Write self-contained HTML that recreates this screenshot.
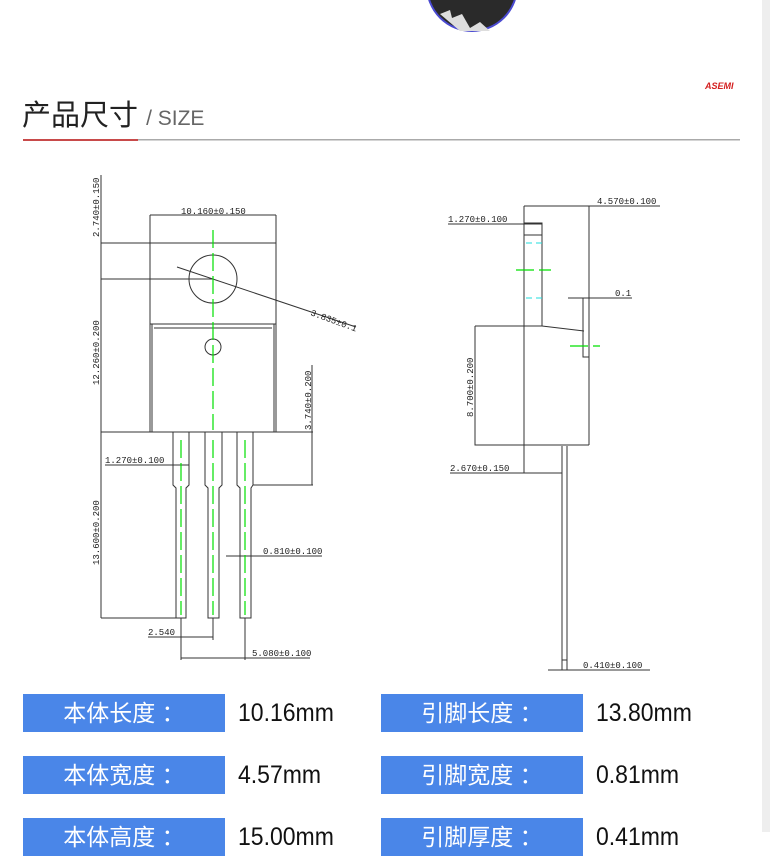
<!DOCTYPE html>
<html><head><meta charset="utf-8"><style>
body{margin:0;width:770px;height:832px;overflow:hidden;background:#fff;position:relative;font-family:"Liberation Sans","Noto Sans CJK SC",sans-serif}
.sb{position:absolute;left:762px;top:0;width:8px;height:832px;background:#eeeeee}
.t{position:absolute;left:22px;top:92px;font-size:29px;color:#222;font-weight:normal;white-space:nowrap}
.t span{font-size:21px;color:#666;font-family:"Liberation Sans",sans-serif;font-weight:normal}
.box{position:absolute;width:202px;height:38px;background:#4a86e8;color:#fff;font-size:23px;line-height:38px;text-align:center;font-family:"Liberation Sans","Noto Sans CJK SC",sans-serif}
.v{position:absolute;font-size:25px;line-height:38px;color:#111;font-family:"Liberation Sans","Noto Sans CJK SC",sans-serif;transform:scaleX(0.92);transform-origin:left}
svg text{font-family:"Liberation Mono",monospace;font-size:9px;fill:#222}
</style></head><body>
<div class="sb"></div>
<svg width="770" height="832" style="position:absolute;left:0;top:0">
<circle cx="472" cy="-14" r="45" fill="#2a2a2a" stroke="#4a4ad0" stroke-width="2"/>
<path d="M440 14 L450 10 L452 18 L462 14 L470 28 L480 22 L490 31 L460 31Z" fill="#ddd"/>
<text x="705" y="89" style="font-family:'Liberation Sans';font-size:9px;font-weight:bold;font-style:italic;fill:#d42020">ASEMI</text>
<rect x="23" y="139" width="115" height="2" fill="#c84a4a"/>
<rect x="138" y="139" width="602" height="1.5" fill="#aaa"/>
<g stroke="#333" stroke-width="1" fill="none">
<path d="M150 215V432M276 215V432M150 215H276M101 243H276M101 279H213M150 324H276M152 324V432M274 324V432M154 328H272M101 432H313"/>
<circle cx="213" cy="279" r="24"/>
<circle cx="213" cy="347" r="8"/>
<path d="M177 267L356 327"/>
<path d="M101 175V618M101 618H176"/>
<path d="M173 432V485L176 488V618H186V488L189 485V432"/>
<path d="M205 432V485L208 488V618H219V488L222 485V432"/>
<path d="M237 432V485L240 488V618H251V488L253 485V432"/>
<path d="M312 365V485M253 485H313"/>
<path d="M105 465H189M226 556H322M148 637H213M181 618V660M213 618V640M245 618V660M181 658H310"/>
<path d="M524 206H660M524 206V473M589 206V445M448 224H542M524 223H542V326M542 223V326M524 235H542"/>
<path d="M475 326H542L584 331M583 298V357H589M475 326V445H589"/>
<path d="M562 446V670H567V446M562 660H567"/>
<path d="M450 473H562M568 298H632M548 670H650"/>
</g>
<g stroke="#00e000" stroke-width="1.2" stroke-dasharray="18 5">
<path d="M213 230V430M181 440V615M213 440V615M245 440V615M516 270H551M570 346H600"/>
</g>
<g stroke="#22dddd" stroke-width="1" stroke-dasharray="6 4"><path d="M526 243H542M526 298H542"/></g>
<text x="181" y="214">10.160±0.150</text>
<text x="310" y="315" transform="rotate(20 310 315)">3.835±0.1</text>
<text transform="translate(99 237) rotate(-90)">2.740±0.150</text>
<text transform="translate(99 385) rotate(-90)">12.260±0.200</text>
<text transform="translate(99 565) rotate(-90)">13.600±0.200</text>
<text transform="translate(311 430) rotate(-90)">3.740±0.200</text>
<text x="105" y="463">1.270±0.100</text>
<text x="263" y="554">0.810±0.100</text>
<text x="148" y="635">2.540</text>
<text x="252" y="656">5.080±0.100</text>
<text x="597" y="204">4.570±0.100</text>
<text x="448" y="222">1.270±0.100</text>
<text x="615" y="296">0.1</text>
<text transform="translate(473 417) rotate(-90)">8.700±0.200</text>
<text x="450" y="471">2.670±0.150</text>
<text x="583" y="668">0.410±0.100</text>
</svg>
<div class="t">产品尺寸 <span>/ SIZE</span></div>
<div class="box" style="left:23px;top:694px">本体长度 ：</div><div class="v" style="left:238px;top:694px">10.16mm</div>
<div class="box" style="left:381px;top:694px">引脚长度 ：</div><div class="v" style="left:596px;top:694px">13.80mm</div>
<div class="box" style="left:23px;top:756px">本体宽度 ：</div><div class="v" style="left:238px;top:756px">4.57mm</div>
<div class="box" style="left:381px;top:756px">引脚宽度 ：</div><div class="v" style="left:596px;top:756px">0.81mm</div>
<div class="box" style="left:23px;top:818px">本体高度 ：</div><div class="v" style="left:238px;top:818px">15.00mm</div>
<div class="box" style="left:381px;top:818px">引脚厚度 ：</div><div class="v" style="left:596px;top:818px">0.41mm</div>
</body></html>
